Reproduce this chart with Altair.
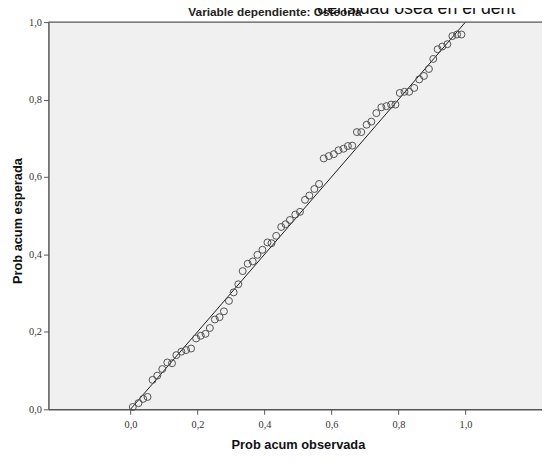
import altair as alt
import pandas as pd

# Observed cumulative probability (x) and expected cumulative probability (y)
prob_observada = [
    0.007, 0.024, 0.038, 0.051, 0.066, 0.080, 0.095, 0.110, 0.124, 0.137, 0.152, 0.166,
    0.181, 0.196, 0.210, 0.224, 0.237, 0.252, 0.266, 0.279, 0.294, 0.308, 0.322, 0.335,
    0.350, 0.365, 0.379, 0.394, 0.409, 0.421, 0.435, 0.450, 0.463, 0.476, 0.492, 0.506,
    0.521, 0.534, 0.549, 0.563, 0.577, 0.592, 0.607, 0.621, 0.636, 0.649, 0.662, 0.676,
    0.689, 0.705, 0.719, 0.734, 0.749, 0.764, 0.778,
    0.791, 0.804, 0.818, 0.832, 0.847, 0.862, 0.876, 0.891, 0.904, 0.917, 0.931, 0.946,
    0.961, 0.975, 0.988,
]
prob_esperada = [
    0.006, 0.016, 0.027, 0.032, 0.076, 0.087, 0.104, 0.121, 0.119, 0.140, 0.149, 0.153,
    0.157, 0.183, 0.190, 0.195, 0.210, 0.232, 0.238, 0.253, 0.280, 0.302, 0.323, 0.357,
    0.376, 0.382, 0.399, 0.412, 0.431, 0.429, 0.448, 0.471, 0.478, 0.489, 0.503, 0.510,
    0.541, 0.552, 0.569, 0.582, 0.648, 0.654, 0.659, 0.669, 0.673, 0.680, 0.681, 0.716,
    0.716, 0.735, 0.743, 0.765, 0.780, 0.783, 0.787,
    0.787, 0.817, 0.820, 0.820, 0.830, 0.852, 0.861, 0.879, 0.905, 0.930, 0.937, 0.943,
    0.964, 0.968, 0.968,
]
diag_x = [0.0, 1.0]
diag_y = [0.0, 1.0]
tick_values = [0.0, 0.2, 0.4, 0.6, 0.8, 1.0]
subtitle = "Variable dependiente: Osteoria"
big_title = "densidad ósea en el dent"
x_title = "Prob acum observada"
y_title = "Prob acum esperada"

W, H = 501, 393
x_dom = [-0.245, -0.245 + W / 340.0]

df = pd.DataFrame({"obs": prob_observada, "esp": prob_esperada})
diag = pd.DataFrame({"obs": diag_x, "esp": diag_y})

label_expr = "replace(format(datum.value, '.1f'), '.', ',')"
xscale = alt.Scale(domain=x_dom, nice=False, zero=False)
yscale = alt.Scale(domain=[0, 1], nice=False, zero=False)

xaxis = alt.Axis(values=tick_values, labelExpr=label_expr, title=x_title,
                 titleX=(0.5 - x_dom[0]) * 340.0, titleY=36, titleBaseline="middle",
                 titleAlign="center", labelPadding=5)
yaxis = alt.Axis(values=tick_values, labelExpr=label_expr, title=y_title,
                 titleX=-31, titleY=H / 2 + 5, titleBaseline="middle", titleAlign="center",
                 titleAngle=270, labelPadding=2)

points = alt.Chart(df).mark_point(
    shape="circle", filled=False, size=50, stroke="#505050", strokeWidth=1, opacity=1
).encode(
    x=alt.X("obs:Q", scale=xscale, axis=xaxis),
    y=alt.Y("esp:Q", scale=yscale, axis=yaxis),
)

line = alt.Chart(diag).mark_line(color="#1a1a1a", strokeWidth=1).encode(
    x=alt.X("obs:Q", scale=xscale), y=alt.Y("esp:Q", scale=yscale)
)

top_border = alt.Chart(pd.DataFrame({"v": [1.0]})).mark_rule(
    color="#555555", strokeWidth=1.5
).encode(y=alt.Y("v:Q", scale=yscale), x=alt.value(0), x2=alt.value(W))

sub = alt.Chart(pd.DataFrame({"t": [subtitle]})).mark_text(
    font="Liberation Sans", fontSize=12, fontWeight="bold", color="#222222",
    align="center", baseline="alphabetic"
).encode(text="t:N", x=alt.value(230), y=alt.value(-6))

big = alt.Chart(pd.DataFrame({"t": [big_title]})).mark_text(
    font="Liberation Sans", fontSize=18, color="#111111",
    align="left", baseline="alphabetic"
).encode(text="t:N", x=alt.value(273), y=alt.value(-8))

chart = alt.layer(line, points, top_border, sub, big).properties(
    width=W, height=H,
    autosize=alt.AutoSizeParams(type="none"),
    padding={"left": 41, "top": 11, "right": 0, "bottom": 41},
    background="white",
).configure_view(
    fill="#f0f0f0", stroke="transparent"
).configure_axis(
    grid=False, domainColor="#555555", domainWidth=1.5, tickColor="#555555",
    tickSize=5, tickWidth=1, labelColor="#333333", labelFont="Liberation Sans Narrow",
    labelFontSize=10.5, titleFont="Liberation Sans", titleFontSize=13,
    titleFontWeight="bold", titleColor="#111111",
)

chart.save("out.html", embed_options={"renderer": "svg", "actions": False})
